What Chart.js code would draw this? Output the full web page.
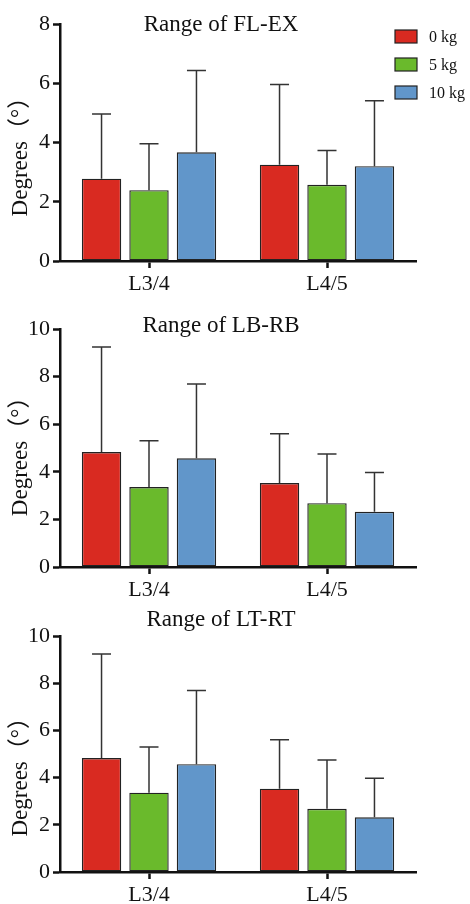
<!DOCTYPE html>
<html>
<head>
<meta charset="utf-8">
<script src="https://cdn.jsdelivr.net/npm/chart.js@4.4.1/dist/chart.umd.min.js"></script>
<style>
  html, body { margin: 0; padding: 0; background: #fff; }
  canvas { display: block; }
</style>
</head>
<body>
<canvas id="c1" width="470" height="300"></canvas>
<canvas id="c2" width="470" height="300"></canvas>
<canvas id="c3" width="470" height="304"></canvas>
<script>
/* Range of motion by segment and load, three panels */

const levels = ['L3/4', 'L4/5'];
const loads = ['0 kg', '5 kg', '10 kg'];
const loadColors = ['#d92a21', '#6aba2c', '#6196ca'];

// FL-EX: mean and SD (upper bar only)
const flexMean0 = [2.78, 3.25];
const flexMean5 = [2.39, 2.57];
const flexMean10 = [3.67, 3.2];
const flexSd0 = [2.18, 2.71];
const flexSd5 = [1.57, 1.16];
const flexSd10 = [2.76, 2.21];

// LB-RB
const bendMean0 = [4.83, 3.53];
const bendMean5 = [3.36, 2.68];
const bendMean10 = [4.57, 2.32];
const bendSd0 = [4.41, 2.07];
const bendSd5 = [1.94, 2.07];
const bendSd10 = [3.12, 1.65];

// LT-RT
const rotMean0 = [4.83, 3.53];
const rotMean5 = [3.36, 2.68];
const rotMean10 = [4.57, 2.32];
const rotSd0 = [4.41, 2.07];
const rotSd5 = [1.94, 2.07];
const rotSd10 = [3.12, 1.65];

const flexTicks = [0, 2, 4, 6, 8];
const tenTicks = [0, 2, 4, 6, 8, 10];

const SERIF = '"Liberation Serif", "Noto Sans CJK SC", serif';
const INK = '#111';

const errorBars = {
  id: 'errorBars',
  afterDatasetsDraw(chart, args, opts) {
    const ctx = chart.ctx;
    const y = chart.scales.y;
    ctx.save();
    ctx.strokeStyle = opts.color;
    ctx.lineWidth = opts.width;
    chart.data.datasets.forEach((ds, i) => {
      chart.getDatasetMeta(i).data.forEach((bar, j) => {
        const top = y.getPixelForValue(ds.data[j] + ds.errors[j]);
        ctx.beginPath();
        ctx.moveTo(bar.x, bar.y);
        ctx.lineTo(bar.x, top);
        ctx.moveTo(bar.x - opts.cap / 2, top);
        ctx.lineTo(bar.x + opts.cap / 2, top);
        ctx.stroke();
      });
    });
    ctx.restore();
  },
};

const panelTitle = {
  id: 'panelTitle',
  afterDraw(chart, args, opts) {
    const ctx = chart.ctx;
    ctx.save();
    ctx.font = opts.font;
    ctx.fillStyle = INK;
    ctx.textAlign = 'center';
    ctx.textBaseline = 'alphabetic';
    ctx.fillText(opts.text, opts.x, opts.y);
    ctx.restore();
  },
};

const boxLegend = {
  id: 'boxLegend',
  afterDraw(chart, args, opts) {
    if (!opts.show) return;
    const ctx = chart.ctx;
    ctx.save();
    ctx.font = opts.font;
    ctx.textAlign = 'left';
    ctx.textBaseline = 'middle';
    chart.data.datasets.forEach((ds, i) => {
      const top = opts.y + i * opts.step;
      ctx.fillStyle = ds.backgroundColor;
      ctx.fillRect(opts.x, top, opts.w, opts.h);
      ctx.strokeStyle = '#222';
      ctx.lineWidth = 1.2;
      ctx.strokeRect(opts.x, top, opts.w, opts.h);
      ctx.fillStyle = INK;
      ctx.fillText(ds.label, opts.textX, top + opts.h / 2 + 1);
    });
    ctx.restore();
  },
};

function makeDatasets(means, sds) {
  return loads.map((name, i) => ({
    label: name,
    data: means[i],
    errors: sds[i],
    backgroundColor: loadColors[i],
    borderColor: '#222',
    borderWidth: 1.4,
    borderSkipped: false,
    categoryPercentage: 0.8,
    barPercentage: 0.83,
  }));
}

function makePanel(cfg) {
  return new Chart(document.getElementById(cfg.id), {
    type: 'bar',
    data: { labels: levels, datasets: makeDatasets(cfg.means, cfg.sds) },
    options: {
      responsive: false,
      animation: false,
      events: [],
      layout: { padding: { top: cfg.top, right: 54, left: 0, bottom: 0 } },
      scales: {
        x: {
          afterFit(scale) { scale.height = cfg.xHeight; },
          offset: true,
          grid: { display: true, drawOnChartArea: false, offset: false, tickLength: 7, tickWidth: 2.5, tickColor: INK },
          border: { display: true, color: INK, width: 2.5 },
          ticks: { color: INK, font: { family: SERIF, size: 22 }, padding: 3 },
        },
        y: {
          afterFit(scale) { scale.width = 60; },
          min: 0,
          max: cfg.ticks[cfg.ticks.length - 1],
          afterBuildTicks(scale) { scale.ticks = cfg.ticks.map(v => ({ value: v })); },
          grid: { display: true, drawOnChartArea: false, tickLength: 7, tickWidth: 2.5, tickColor: INK },
          border: { display: true, color: INK, width: 2.5 },
          ticks: { color: INK, font: { family: SERIF, size: 22 }, padding: 3 },
          title: {
            display: true,
            text: 'Degrees（°）' + ' '.repeat(cfg.yPad),
            color: INK,
            font: { family: SERIF, size: 23 },
            padding: { top: 7, bottom: 0 },
          },
        },
      },
      plugins: {
        legend: { display: false },
        tooltip: { enabled: false },
        errorBars: { color: '#333', width: 1.5, cap: 19 },
        panelTitle: { text: cfg.title, x: 221, y: cfg.titleY, font: '23px ' + SERIF },
        boxLegend: { show: !!cfg.legend, x: 395, y: 30, w: 22, h: 13, step: 28, textX: 429, font: '16px ' + SERIF },
      },
    },
    plugins: [errorBars, panelTitle, boxLegend],
  });
}

makePanel({
  id: 'c1', title: 'Range of FL-EX', titleY: 31, top: 24, xHeight: 39, yPad: 3,
  ticks: flexTicks, legend: true,
  means: [flexMean0, flexMean5, flexMean10], sds: [flexSd0, flexSd5, flexSd10],
});
makePanel({
  id: 'c2', title: 'Range of LB-RB', titleY: 32, top: 29, xHeight: 33, yPad: 1,
  ticks: tenTicks,
  means: [bendMean0, bendMean5, bendMean10], sds: [bendSd0, bendSd5, bendSd10],
});
makePanel({
  id: 'c3', title: 'Range of LT-RT', titleY: 26, top: 36, xHeight: 32, yPad: 6,
  ticks: tenTicks,
  means: [rotMean0, rotMean5, rotMean10], sds: [rotSd0, rotSd5, rotSd10],
});
</script>
</body>
</html>
